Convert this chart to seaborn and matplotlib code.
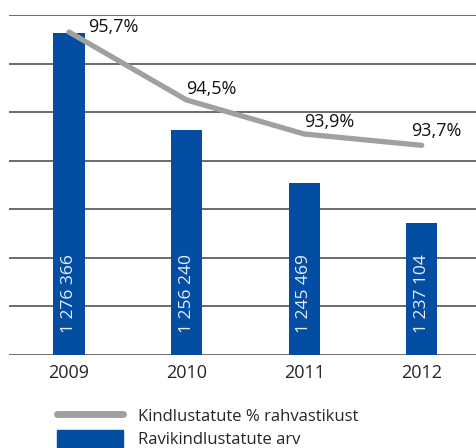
import matplotlib
matplotlib.use("Agg")
import matplotlib.pyplot as plt
import seaborn as sns
import pandas as pd
from matplotlib.lines import Line2D
from matplotlib.patches import Patch

# data
years = ["2009", "2010", "2011", "2012"]
insured = [1276366, 1256240, 1245469, 1237104]
share_pct = [95.7, 94.5, 93.9, 93.7]
insured_labels = ["1 276 366", "1 256 240", "1 245 469", "1 237 104"]
share_labels = ["95,7%", "94,5%", "93,9%", "93,7%"]

blue = "#034ea2"
grey = "#a0a0a0"

sns.set_style("white")
plt.rcParams["font.family"] = ["Open Sans", "DejaVu Sans"]

df = pd.DataFrame({"year": years, "insured": insured, "share": share_pct})

fig = plt.figure(figsize=(4.77, 4.48), dpi=100)
ax = fig.add_axes([9 / 477, 1 - 355 / 448, 1 - 9 / 477, (355 - 15) / 448])

sns.barplot(data=df, x="year", y="insured", color=blue, width=0.265,
            saturation=1, linewidth=0, ax=ax, zorder=2)
ax.set_ylim(1210000, 1280000)
ax.set_xlim(-0.51, 3.47)
ax.set_yticks(range(1210000, 1280001, 10000))
ax.yaxis.grid(True, color="#444444", linewidth=1.1)
ax.set_axisbelow(True)
ax.tick_params(axis="y", left=False, labelleft=False, length=0)
ax.tick_params(axis="x", bottom=False, length=0, labelsize=13, pad=6.5)
for s in ax.spines.values():
    s.set_visible(False)
ax.set_xlabel("")
ax.set_ylabel("")

# value labels inside bars
for i, lab in enumerate(insured_labels):
    ax.annotate(lab, (i, 1210000), xytext=(0, 16), textcoords="offset points",
                rotation=90, ha="center", va="bottom", color="#e8eef8",
                fontsize=12.5)

ax2 = ax.twinx()
sns.lineplot(x=list(range(len(years))), y=share_pct, ax=ax2, color=grey,
             linewidth=3.8, solid_capstyle="round")
ax2.set_ylim(90, 96)
ax2.set_xlim(-0.51, 3.47)
ax2.set_yticks([])
ax2.tick_params(length=0)
for s in ax2.spines.values():
    s.set_visible(False)

# label offsets in pixels (dx, dy up), converted to points
offsets_px = [(19, 5), (0, 11.5), (0, 12.5), (-11, 14)]
for i, lab in enumerate(share_labels):
    dx, dy = offsets_px[i]
    ax2.annotate(lab, (i, share_pct[i]), xytext=(dx * 0.72, dy * 0.72),
                 textcoords="offset points", ha="left", va="center",
                 fontsize=13, color="#111111")

handles = [Line2D([0], [0], color=grey, linewidth=5, solid_capstyle="round"),
           Patch(facecolor=blue, edgecolor=blue)]
fig.legend(handles, ["Kindlustatute % rahvastikust", "Ravikindlustatute arv"],
           loc="upper left", bbox_to_anchor=(50 / 477, 1 - 400 / 448),
           frameon=False, fontsize=12, handlelength=4.0, handleheight=1.2,
           labelspacing=0.3, handletextpad=0.9, borderaxespad=0)

fig.savefig("out.png", dpi=100)
